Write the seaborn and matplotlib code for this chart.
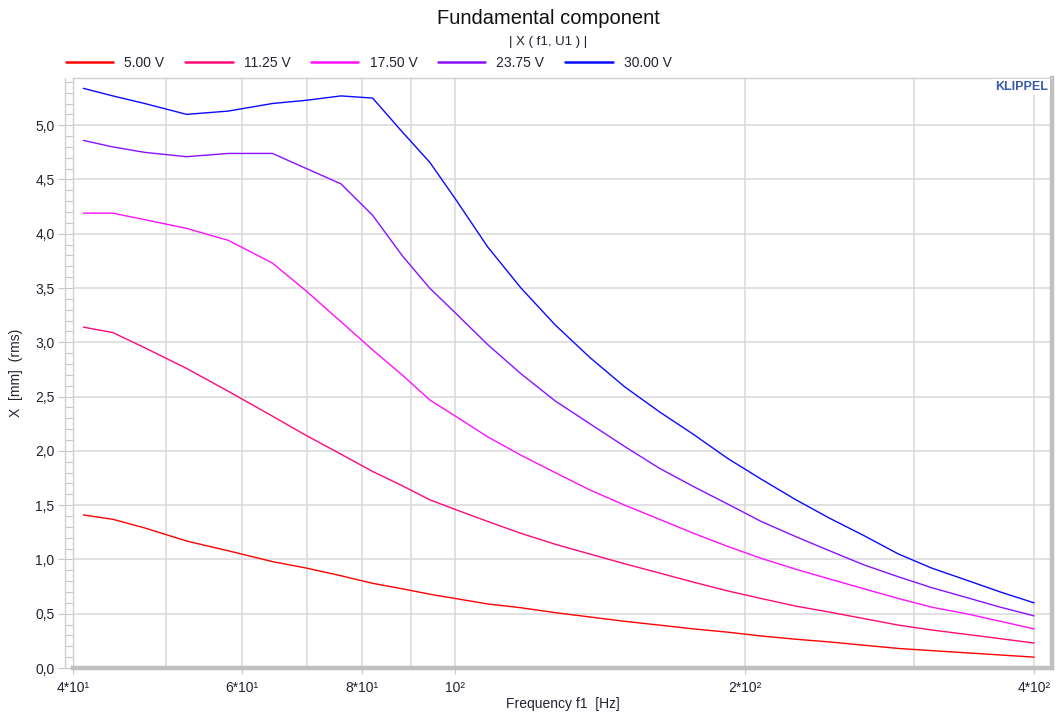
import numpy as np
import pandas as pd
import matplotlib
matplotlib.use("Agg")
import matplotlib.pyplot as plt
import seaborn as sns
from matplotlib.lines import Line2D
from matplotlib.ticker import FixedLocator, FixedFormatter, NullFormatter

# ---------------- data ----------------
freq = [41, 44, 47.5, 52.5, 58, 64.5, 70, 76, 82, 88, 94, 100, 108, 117, 127,
        138, 150, 163, 177, 192, 208, 226, 245, 266, 289, 313, 340, 369, 400]

x_5_00 = [1.41, 1.37, 1.29, 1.17, 1.08, 0.98, 0.92, 0.85, 0.78, 0.73, 0.68, 0.64,
          0.59, 0.555, 0.51, 0.47, 0.43, 0.395, 0.36, 0.33, 0.295, 0.265, 0.24,
          0.21, 0.18, 0.16, 0.14, 0.12, 0.10]
x_11_25 = [3.14, 3.09, 2.95, 2.76, 2.55, 2.32, 2.14, 1.97, 1.81, 1.68, 1.55, 1.46,
           1.35, 1.24, 1.14, 1.05, 0.96, 0.875, 0.79, 0.71, 0.64, 0.57, 0.515,
           0.455, 0.395, 0.35, 0.31, 0.27, 0.23]
x_17_50 = [4.19, 4.19, 4.13, 4.05, 3.94, 3.73, 3.47, 3.19, 2.93, 2.70, 2.47, 2.32,
           2.13, 1.96, 1.80, 1.64, 1.50, 1.37, 1.24, 1.12, 1.01, 0.91, 0.82, 0.73,
           0.64, 0.56, 0.50, 0.43, 0.36]
x_23_75 = [4.86, 4.80, 4.75, 4.71, 4.74, 4.74, 4.60, 4.46, 4.17, 3.80, 3.50, 3.27,
           2.98, 2.71, 2.46, 2.25, 2.04, 1.84, 1.67, 1.51, 1.35, 1.21, 1.08, 0.95,
           0.84, 0.74, 0.65, 0.56, 0.48]
x_30_00 = [5.34, 5.27, 5.20, 5.10, 5.13, 5.20, 5.23, 5.27, 5.25, 4.94, 4.66, 4.32,
           3.88, 3.50, 3.16, 2.86, 2.59, 2.36, 2.15, 1.93, 1.74, 1.55, 1.38, 1.22,
           1.05, 0.92, 0.81, 0.70, 0.60]

series_labels = ["5.00 V", "11.25 V", "17.50 V", "23.75 V", "30.00 V"]
series_values = [x_5_00, x_11_25, x_17_50, x_23_75, x_30_00]
series_colors = ["#FF0000", "#FF0A78", "#FF10FF", "#8A10FF", "#0A0AFF"]

x_major = [40, 60, 80, 100, 200, 400]
x_major_labels = ["4*10¹", "6*10¹", "8*10¹", "10²", "2*10²", "4*10²"]
x_minor = [50, 70, 90, 300]
y_major = [0.0, 0.5, 1.0, 1.5, 2.0, 2.5, 3.0, 3.5, 4.0, 4.5, 5.0]
y_major_labels = ["0,0", "0,5", "1,0", "1,5", "2,0", "2,5", "3,0", "3,5", "4,0", "4,5", "5,0"]

df = pd.concat([pd.DataFrame({"freq": freq, "X": v, "U": lab})
                for lab, v in zip(series_labels, series_values)], ignore_index=True)

# ---------------- style ----------------
sns.set_theme(style="white")
plt.rcParams["font.family"] = ["Liberation Sans", "DejaVu Sans"]
TXT = "#222233"
GRID = "#D8D8D8"

W, H = 1059, 713
fig = plt.figure(figsize=(W / 100, H / 100), dpi=100)
L, R, T, B = 73, 1052, 78, 668
ax = fig.add_axes([L / W, (H - B) / H, (R - L) / W, (B - T) / H])

sns.lineplot(data=df, x="freq", y="X", hue="U", hue_order=series_labels,
             palette=dict(zip(series_labels, series_colors)), linewidth=1.0,
             legend=False, ax=ax, sort=False)

ax.set_xscale("log")
ax.set_xlim(40, 417.5)
ax.set_ylim(0, 5.435)

ax.xaxis.set_major_locator(FixedLocator(x_major))
ax.xaxis.set_major_formatter(FixedFormatter(x_major_labels))
ax.xaxis.set_minor_locator(FixedLocator(x_minor))
ax.xaxis.set_minor_formatter(NullFormatter())
ax.yaxis.set_major_locator(FixedLocator(y_major))
ax.yaxis.set_major_formatter(FixedFormatter(y_major_labels))
ax.yaxis.set_minor_locator(FixedLocator(np.round(np.arange(0, 5.44, 0.1), 2)))

ax.grid(True, which="both", axis="x", color=GRID, linewidth=1.1)
ax.grid(True, which="major", axis="y", color=GRID, linewidth=1.1)
ax.set_axisbelow(True)

ax.tick_params(axis="y", which="major", direction="out", length=10.8, width=0.8,
               color="#C8C8C8", pad=2.5, labelsize=10, labelcolor=TXT, left=True)
ax.tick_params(axis="y", which="minor", direction="out", length=5.5, width=0.8,
               color="#C8C8C8", left=True)
ax.tick_params(axis="x", which="major", direction="out", length=4, width=0.8,
               color="#C8C8C8", pad=5, labelsize=10, labelcolor=TXT, bottom=True)
ax.tick_params(axis="x", which="minor", length=0)

for s in ["left", "top"]:
    ax.spines[s].set_color("#D0D0D0")
    ax.spines[s].set_linewidth(1.0)
for s in ["right", "bottom"]:
    ax.spines[s].set_color("#C0C0C0")
    ax.spines[s].set_linewidth(3.2)

# ladder line left of the y axis
ax.plot([-8 / (R - L)] * 2, [0, 1], transform=ax.transAxes, color="#D0D0D0",
        linewidth=1.0, clip_on=False)

ax.set_xlabel("Frequency f1  [Hz]", fontsize=10, color=TXT, labelpad=2)
ax.set_ylabel("X  [mm]  (rms)", fontsize=10, color=TXT)
ax.yaxis.set_label_coords(-0.051, 0.5)

ax.text(0.996, 0.985, "KLIPPEL", transform=ax.transAxes, ha="right", va="center",
        fontsize=9, fontweight="bold", color="#3A5BA8",
        bbox=dict(facecolor="white", edgecolor="none", pad=1.5))

fig.text(548 / W, 1 - 18 / H, "Fundamental component", ha="center", va="center",
         fontsize=14.5, color="#111111")
fig.text(548 / W, 1 - 42 / H, "| X ( f1, U1 ) |", ha="center", va="center",
         fontsize=9.5, color=TXT)

handles = [Line2D([], [], color=c, linewidth=1.8) for c in series_colors]
fig.legend(handles, series_labels, loc="center left",
           bbox_to_anchor=(66 / W, 1 - 63 / H), ncol=5, frameon=False,
           handlelength=3.4, handletextpad=0.8, columnspacing=1.5, fontsize=10,
           borderaxespad=0, borderpad=0, labelcolor=TXT)

fig.savefig("out.png", dpi=100, facecolor="white")
